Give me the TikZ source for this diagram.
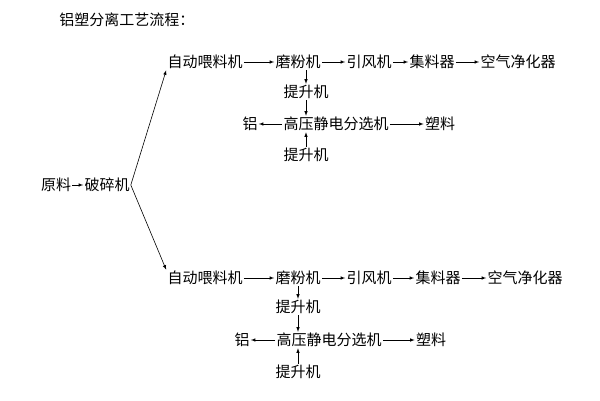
\documentclass[tikz,border=0pt]{standalone}
\usepackage{fontspec}
\setmainfont{Noto Sans CJK SC}
\usepackage{tikz}
\usetikzlibrary{positioning}

\begin{document}
\begin{tikzpicture}[
    x=1pt, y=-1pt,
    every node/.style={inner sep=1pt, font=\fontsize{15}{17}\selectfont},
    every path/.style={draw, -latex, line width=0.6pt}
    ]
    \path[use as bounding box, draw=none] (0,0) rectangle (600,400);

    % Nodes
    \node[anchor=west] (title) at (58,20) {铝塑分离工艺流程：};
    \node (raw) at (56,185) {原料};
    \node (crush) at (107,185) {破碎机};

    \node (feedA) at (205,62) {自动喂料机};
    \node (millA) at (298,62) {磨粉机};
    \node (fanA) at (369,62) {引风机};
    \node (collA) at (432,62) {集料器};
    \node (airA) at (518,62) {空气净化器};
    \node (liftA) at (306,92) {提升机};
    \node (sepA) at (336,124) {高压静电分选机};
    \node (alA) at (250,124) {铝};
    \node (plA) at (440,124) {塑料};
    \node (liftAA) at (306,155) {提升机};

    \node (feedB) at (205,278) {自动喂料机};
    \node (millB) at (298,278) {磨粉机};
    \node (fanB) at (369,278) {引风机};
    \node (collB) at (438,278) {集料器};
    \node (airB) at (525,278) {空气净化器};
    \node (liftB) at (298,307) {提升机};
    \node (sepB) at (329,340) {高压静电分选机};
    \node (alB) at (242,340) {铝};
    \node (plB) at (431,340) {塑料};
    \node (liftBB) at (298,372) {提升机};

    % Connections
    \path (raw) -- (crush);
    \path (crush.east) -- (feedA.south west);
    \path (crush.east) -- (feedB.north west);

    \foreach \a/\b in {feedA/millA, millA/fanA, fanA/collA, collA/airA,
                       feedB/millB, millB/fanB, fanB/collB, collB/airB,
                       sepA/plA, sepB/plB, sepA/alA, sepB/alB}
        \path (\a) -- (\b);

    \foreach \l/\m/\s/\t in {liftA/millA/sepA/liftAA, liftB/millB/sepB/liftBB} {
        \path (\m.south -| \l) -- (\l.north);
        \path (\l.south) -- (\s.north -| \l);
        \path (\t.north) -- (\s.south -| \t);
    }

\end{tikzpicture}
\end{document}
